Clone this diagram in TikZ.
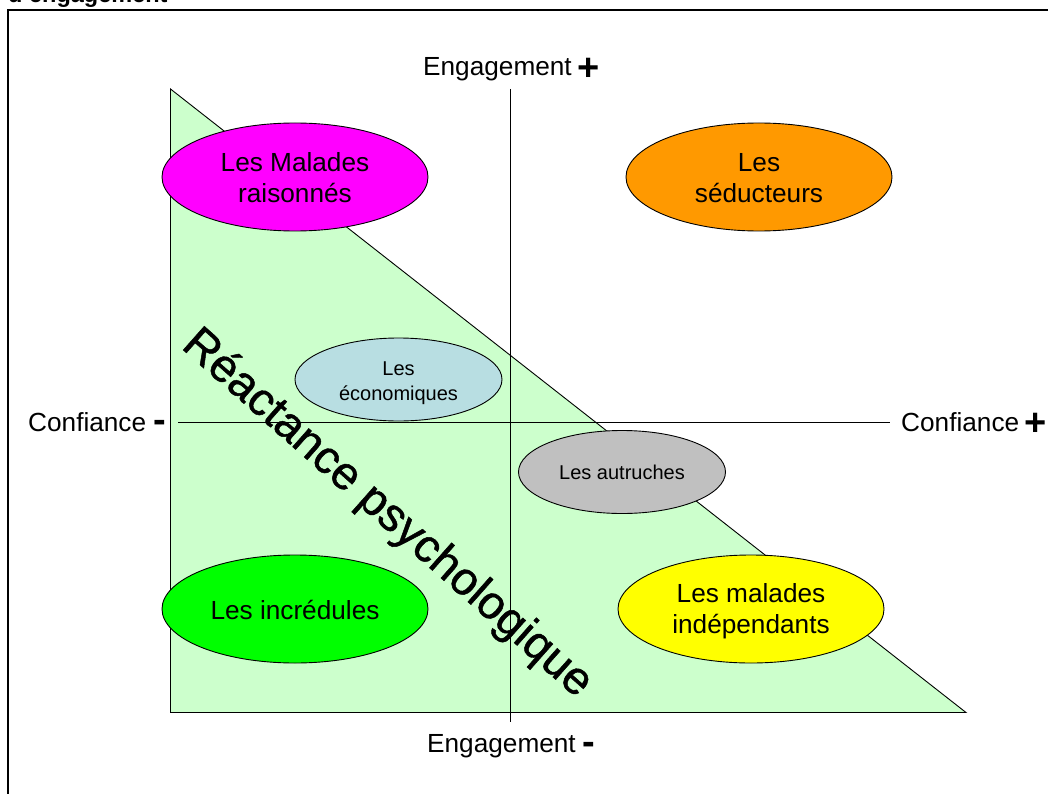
\documentclass[tikz,border=0pt]{standalone}
\usepackage{fontspec}
\setmainfont{Liberation Sans}
\newfontfamily\heavyfont[FakeBold=1.0]{Liberation Sans}
\usetikzlibrary{shapes.geometric}
\definecolor{trianglec}{RGB}{204,255,204}
\definecolor{magentab}{RGB}{255,0,255}
\definecolor{orangeb}{RGB}{255,153,0}
\definecolor{blueb}{RGB}{184,222,226}
\definecolor{grayb}{RGB}{192,192,192}
\definecolor{greenb}{RGB}{0,255,0}
\definecolor{yellowb}{RGB}{255,255,0}
\tikzset{
  blob/.style={ellipse,draw=black,line width=0.9pt,inner sep=0pt,align=center,text=black},
  bigblob/.style={blob,minimum width=266pt,minimum height=108pt},
  smallblob/.style={blob,minimum width=207pt,minimum height=83pt},
  bigtxt/.style={inner sep=0pt,align=center,font=\fontsize{26.2pt}{31pt}\selectfont},
  smalltxt/.style={inner sep=0pt,align=center,font=\fontsize{20pt}{25pt}\selectfont},
  axis/.style={draw=black,line width=0.9pt},
  lab/.style={inner sep=0pt,anchor=base west,font=\fontsize{26.2pt}{31pt}\selectfont},
  sign/.style={inner sep=0pt,anchor=base,font=\fontsize{38pt}{38pt}\bfseries\selectfont}
}
\begin{document}
\begin{tikzpicture}[x=1pt,y=-1pt]
\useasboundingbox (0,0) rectangle (1048,794);
\clip (0,0) rectangle (1048,794);
\fill[white] (0,0) rectangle (1048,794);
\node[inner sep=0pt,anchor=base west,font=\fontsize{23.5pt}{24pt}\bfseries\selectfont] (caption) at (8,3) {d'engagement};
\draw[line width=2pt] (8,800) -- (8,10) -- (1060,10);
\coordinate (t1) at (170.5,89);
\coordinate (t2) at (170.5,712.5);
\coordinate (t3) at (966,712.5);
\draw[fill=trianglec,line width=0.9pt] (t1) -- (t2) -- (t3) -- cycle;
\node[bigblob,fill=magentab] (malades) at (295,177) {};
\node[bigtxt] at (295,178) {Les Malades\\raisonnés};
\node[bigblob,fill=orangeb] (seducteurs) at (759,177) {};
\node[bigtxt] at (759,178) {Les\\séducteurs};
\node[smallblob,fill=blueb] (economiques) at (398.5,379.5) {};
\node[smalltxt] at (398.5,383) {Les\\économiques};
\node[smallblob,fill=grayb] (autruches) at (622,472) {};
\node[smalltxt] at (622,472) {Les autruches};
\node[bigblob,fill=greenb] (incredules) at (295,609) {};
\node[bigtxt] at (295,610) {Les incrédules};
\node[bigblob,fill=yellowb] (independants) at (751,609) {};
\node[bigtxt] at (751,611) {Les malades\\indépendants};
\coordinate (vtop) at (510.5,89);
\coordinate (vbot) at (510.5,722);
\coordinate (hleft) at (178,422);
\coordinate (hright) at (890,422);
\draw[axis] (vtop) -- (vbot);
\draw[axis] (hleft) -- (hright);
\node[lab] (et) at (423,76) {Engagement};
\node[sign] (etp) at (589,81) {+};
\node[lab] (eb) at (427,752) {Engagement};
\node[sign] (ebm) at (589,754) {-};
\node[lab] (cl) at (28,431) {Confiance};
\node[sign] (clm) at (160,432) {-};
\node[lab] (cr) at (901,431) {Confiance};
\node[sign] (crp) at (1036,435) {+};
\node[inner sep=0pt,rotate=-41.5,font=\fontsize{46.3pt}{47pt}\heavyfont] (reactance) at (387,514) {Réactance psychologique};
\end{tikzpicture}
\end{document}
